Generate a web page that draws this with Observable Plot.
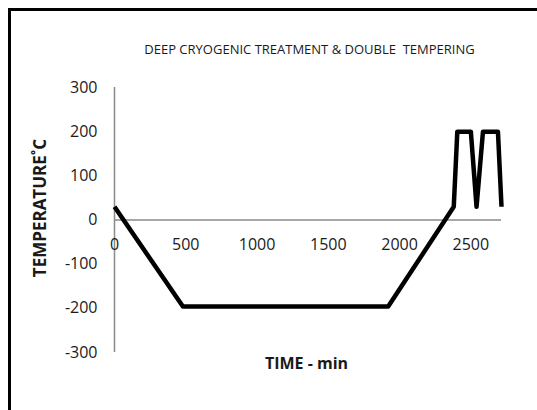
<!DOCTYPE html>
<html>
<head>
<meta charset="utf-8">
<script src="https://cdn.jsdelivr.net/npm/d3@7"></script>
<script src="https://cdn.jsdelivr.net/npm/@observablehq/plot@0.6"></script>
<style>
  html, body { margin: 0; padding: 0; background: #fff; overflow: hidden; width: 537px; height: 410px; }
  #wrap { position: relative; width: 537px; height: 410px; overflow: hidden; }
  #frame { position: absolute; left: 8px; top: 8px; width: 600px; height: 500px; border: 3px solid #000; box-sizing: border-box; }
  #chart { position: absolute; left: 0; top: 0; }
</style>
</head>
<body>
<div id="wrap"><div id="frame"></div><div id="chart"></div></div>
<script>
// Time (min) and temperature (°C)
const times = [0, 480, 1920, 2380, 2405, 2500, 2540, 2585, 2690, 2715];
const temps = [30, -196, -196, 30, 200, 200, 30, 200, 200, 30];
const xTicks = [0, 500, 1000, 1500, 2000, 2500];
const yTicks = [-300, -200, -100, 0, 100, 200, 300];
const title = "DEEP CRYOGENIC TREATMENT & DOUBLE\u00a0 TEMPERING";
const xLabel = "TIME - min";
const yLabel = "TEMPERATURE\u02daC";

const data = times.map((t, i) => ({t, T: temps[i]}));
const font = "'Open Sans', 'Noto Sans', sans-serif";

const chart = Plot.plot({
  width: 537,
  height: 410,
  marginLeft: 114,
  marginRight: 36,
  marginTop: 87,
  marginBottom: 58,
  x: {domain: [0, 2715], axis: null},
  y: {domain: [-300, 300], axis: null},
  style: {fontFamily: font, background: "transparent", color: "#1a1a1a", overflow: "visible"},
  marks: [
    Plot.ruleX([0], {stroke: "#8a8a8a", strokeWidth: 1.5}),
    Plot.ruleY([0], {stroke: "#8a8a8a", strokeWidth: 1.5}),
    Plot.text(yTicks, {x: 0, y: d => d, text: d => String(d), dx: -17, textAnchor: "end", fontSize: 16, fill: "#1a1a1a"}),
    Plot.text(xTicks, {x: d => d, y: 0, text: d => String(d), dy: 25, textAnchor: "middle", fontSize: 16, fill: "#1a1a1a"}),
    Plot.line(data, {x: "t", y: "T", stroke: "#000", strokeWidth: 4.5, strokeLinejoin: "round", strokeLinecap: "butt"}),
    Plot.text([title], {frameAnchor: "top", textAnchor: "middle", dx: 1.5, dy: -43, fontSize: 13, fill: "#1a1a1a"}),
    Plot.text([xLabel], {frameAnchor: "bottom", textAnchor: "middle", dx: -1.5, dy: 16, fontSize: 16, fontWeight: "bold", fill: "#1a1a1a"}),
    Plot.text([yLabel], {frameAnchor: "left", textAnchor: "middle", dx: -74, dy: -12, rotate: -90, fontSize: 17, fontWeight: "bold", fill: "#1a1a1a", letterSpacing: "1.4px"})
  ]
});
document.getElementById("chart").appendChild(chart);
</script>
</body>
</html>
